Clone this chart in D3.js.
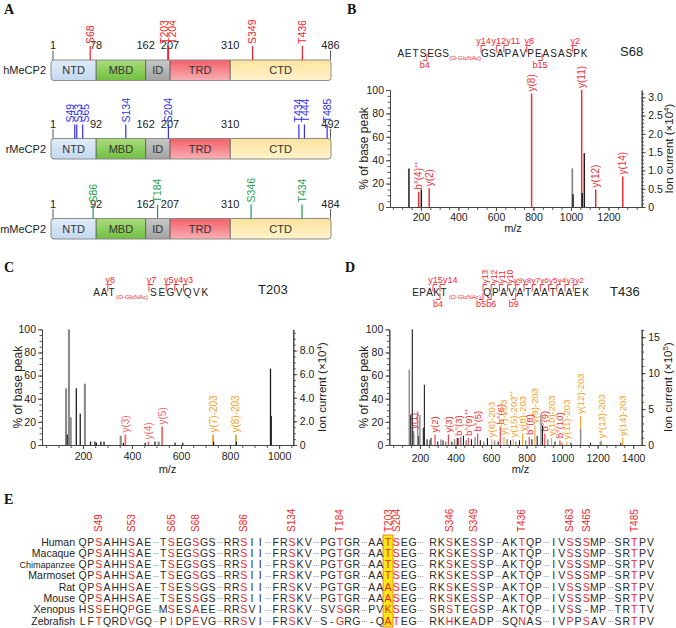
<!DOCTYPE html>
<html><head><meta charset="utf-8">
<script src="https://cdn.jsdelivr.net/npm/d3@7/dist/d3.min.js"></script>
<style>
html,body{margin:0;padding:0;background:#fff;}
svg{display:block;}
</style></head>
<body><svg id="fig" width="676" height="628"></svg>
<script>
// ================= DATA =================
const panelLabels = ["A","B","C","D","E"];

// Panel A
const domainNames = ["NTD","MBD","ID","TRD","CTD"];
const proteinNames = ["hMeCP2","rMeCP2","mMeCP2"];
const hBounds = [1,78,162,207,310,486];
const rBounds = [1,92,162,207,310,492];
const mBounds = [1,92,162,207,310,484];
const hSites = ["S68","T203","T204","S349","T436"];
const rSites = ["S49","S53","S65","S134","S204","T434","T444","T485"];
const mSites = ["S86","T184","S346","T434"];

// Panel B
const bSeq = "AETSEGSGSAPAVPEASASPK";
const bModAfter = 7;
const bYIons = [14,12,11,8,2];
const bBIons = [4,15];
const bSiteLabel = "S68";
const bIonMz = [188,244,790,1057,1132,1276];
const bIonPct = [13,16,97,100,15,26];
const bIonLabel = ["b°(4)⁺⁺","y(2)","y(8)","y(11)","y(12)","y(14)"];
const bBgMz = [136,202,1007,1011,1060,1071];
const bBgPct = [33,15,33,11,12,46];
const bBgShade = ["k","k","g","k","k","k"];
const bXTicks = [200,400,600,800,1000,1200];
const bRTicks = [0,0.5,1.0,1.5,2.0,2.5,3.0];

// Panel C
const cSeq = "AATSEGVQVK";
const cModAfter = 3;
const cYIons = [8,7,5,4,3];
const cBIons = [];
const cSiteLabel = "T203";
const cIonMz = [373,467,523,731,824];
const cIonPct = [9,3,16,9,9];
const cIonLabel = ["y(3)","y(4)","y(5)","y(7)-203","y(8)-203"];
const cBgMz = [131,136,143,150,173,189,208,231,249,255,273,286,354,365,454,494,509,576,607,733,826,965,968];
const cBgPct = [49,9,100,24,49,27,53,3,3,2,3,3,8,2,2,3,3,2,2,3,3,66,25];
const cBgShade = ["g","k","g","g","k","k","g","k","k","k","k","k","g","k","k","k","g","k","k","k","k","k","k"];
const cXTicks = [200,400,600,800,1000];
const cRTicks = [0,2,4,6,8];

// Panel D
const dSeq = "EPAKTQPAVATAATAAEK";
const dModAfter = 5;
const dYIons = [15,14,13,12,11,10,9,8,7,6,5,4,3,2];
const dBIons = [4,5,6,9];
const dSiteLabel = "T436";
const dIonMz = [163,285,360,416,472,525,604,652,673,725,778,815,847,903,941,988,1026,1104,1222,1341];
const dIonPct = [12,9,9,6,6,10,5,16,7,5,10,7,17,10,6,4,3,25,4,6];
const dIonLabel = ["y(1)","y(2)","y(3)","b°(3)","b°(9)⁺⁺","b°(5)","y(6)-203","b°(6)","y(7)-203","y(15)-203⁺⁺","y(8)-203","b°(8)","y(9)-203","b°(9)","y(10)-203","b°(10)","y(11)-203","y(12)-203","y*(13)-203","y(14)-203"];
const dBgMz = [140,148,157,166,187,194,200,219,225,240,255,262,300,318,330,345,380,395,410,430,445,460,490,510,540,560,580,620,640,690,710,740,760,795,830,860,881,890,920,960,1000,1050,1104,1160,1215,1330];
const dBgPct = [65,26,100,10,29,8,26,15,52,5,4,6,3,5,4,3,3,5,6,7,8,4,5,7,4,3,6,4,3,5,4,3,4,4,5,8,27,17,5,3,2,2,14,2,3,2];
const dBgShade = ["g","k","k","g","g","k","g","k","k","k","g","k","k","g","k","g","k","g","k","g","k","g","k","g","k","g","k","g","k","g","k","g","k","g","k","k","g","k","g","k","g","k","g","k","g","k"];
const dXTicks = [200,400,600,800,1000,1200,1400];
const dRTicks = [0,5,10,15];

// Panel E
const eSpecies = ["Human","Macaque","Chimapanzee","Marmoset","Rat","Mouse","Xenopus","Zebrafish"];
const eAlign = [
  "QPSAHHSAE|TSEGSGS|RRSII|FRSKV|PGTGR|AATSEG|RKSKESSP|AKTQP|IVSSSMP|SRTPV",
  "QPSAHHSAE|TSEGSGS|RRSII|FRSKV|PGTGR|AATSEG|RKSKESSP|AKTQP|IVSSSMP|SRTPV",
  "QPSAHHSAE|TSEGSGS|RRSII|FRSKV|PGTGR|AATSEG|RKSKESSP|AKTQP|IVSSSMP|SRTPV",
  "QPSAHHSAE|TSEGSGS|RRSII|FRSKV|PGTGR|AATSEG|RKSKESSP|AKTQP|IVSSSMP|SRTPV",
  "QPSAHHSAE|TSESSGS|RRSII|FRSKV|PGTGR|AAASEG|RKSKESSP|AKTQP|IVSSSMP|SRTPV",
  "QPSAHHSAE|TSESSGS|RRSII|FRSKV|PGTGR|AAASEG|RKSKESSP|AKTQP|IVSSSMP|SRTPV",
  "HSSEHQPGE|MSESAEE|RRSVI|FRSKV|SVSGR|PVKSEG|SRSTEGSP|AKTQP|IVSS-MP|TRTTV",
  "LFTQRDVGQ|PIDPEVG|RRSVI|FRSKV|S-GRG|-QATEG|RKHKEADP|SQNAS|IVPPSAV|SRTPV"
];
const eSites = ["S49","S53","S65","S68","S86","S134","T184","T203","S204","S346","S349","T436","S463","S465","T485"];
const eSiteSeg = [0,0,1,1,2,3,4,5,5,6,6,7,8,8,9];
const eSiteIdx = [2,6,1,4,2,2,2,2,3,2,5,2,2,4,2];
const eHighlight = "T203";

// ================= DRAWING =================
const svg = d3.select("#fig");
const SANS = '"Liberation Sans", Arial, Helvetica, sans-serif';
const SERIF = '"Liberation Serif", "Times New Roman", serif';
svg.style("font-family", SANS);
const defs = svg.append("defs");
const TXT = "#222";

// panel letters
const letterPos = {A:[4,13.5],B:[347,13.5],C:[4,272],D:[345,272],E:[4,503.5]};
panelLabels.forEach(l => svg.append("text").attr("x",letterPos[l][0]).attr("y",letterPos[l][1])
  .attr("font-family",SERIF).attr("font-weight","bold").attr("font-size",14).attr("fill","#111").text(l));

function rotText(g, x, y, txt, fs, color, anchor){
  return g.append("text").attr("transform",`translate(${x},${y}) rotate(-90)`)
    .attr("text-anchor",anchor||"start").attr("dy","0.35em").attr("font-size",fs).attr("fill",color).text(txt);
}
// spread close positions into clusters with a minimum gap, centred on each cluster's mean
function spreadCentered(xs, minGap){
  let clusters = xs.map(x => ({xs:[x], c:x}));
  let changed = true;
  while (changed){
    changed = false;
    for (let i=0;i<clusters.length-1;i++){
      const a = clusters[i], b = clusters[i+1];
      const aEnd = a.c + (a.xs.length-1)*minGap/2, bStart = b.c - (b.xs.length-1)*minGap/2;
      if (bStart - aEnd < minGap){
        const all = a.xs.concat(b.xs);
        clusters.splice(i,2,{xs:all, c:d3.mean(all)}); changed = true; break;
      }
    }
  }
  const out = [];
  clusters.forEach(cl => cl.xs.forEach((x,j) => out.push(cl.c + (j-(cl.xs.length-1)/2)*minGap)));
  return out;
}
// push horizontally placed text nodes right so they don't overlap
function pushRight(items){
  items.sort((a,b) => a.x - b.x);
  items.forEach(it => it.w = it.node.node().getComputedTextLength());
  for (let i=1;i<items.length;i++){
    const p = items[i-1], minX = p.x + p.w/2 + items[i].w/2 + 0.3;
    if (items[i].x < minX) items[i].x = minX;
  }
  items.forEach(it => it.node.attr("x", it.x));
}

// ---------- Panel A ----------
const domainGrad = {NTD:["#e0ecf8","#c3d8ee"], MBD:["#a9dd7c","#72c040"], ID:["#c8c8c8","#a2a2a2"],
                    TRD:["#f35f69","#f9b0b4"], CTD:["#fde39c","#fff2cc"]};
domainNames.forEach(n => {
  const gr = defs.append("linearGradient").attr("id","g"+n).attr("x1",0).attr("y1",0).attr("x2",0).attr("y2",1);
  gr.append("stop").attr("offset","0%").attr("stop-color",domainGrad[n][0]);
  gr.append("stop").attr("offset","100%").attr("stop-color",domainGrad[n][1]);
});
const aRows = [
  {name:proteinNames[0], bounds:hBounds, sites:hSites, color:"#f01e28", top:60},
  {name:proteinNames[1], bounds:rBounds, sites:rSites, color:"#2f2ff0", top:138.5},
  {name:proteinNames[2], bounds:mBounds, sites:mSites, color:"#1a9e4c", top:218.5}];
const barH = 20.5, ax0 = 51, aw = 280, layoutFrac = [0,.161,.338,.425,.64,1];
aRows.forEach((r,ri) => {
  const g = svg.append("g");
  const xs = d3.scaleLinear().domain(r.bounds).range(layoutFrac.map(f => ax0 + f*aw));
  const cid = "clipA"+ri;
  defs.append("clipPath").attr("id",cid).append("rect").attr("x",ax0).attr("y",r.top)
    .attr("width",aw).attr("height",barH).attr("rx",3);
  const dg = g.append("g").attr("clip-path",`url(#${cid})`);
  domainNames.forEach((n,i) => {
    const x1 = xs(r.bounds[i]), x2 = xs(r.bounds[i+1]);
    dg.append("rect").attr("x",x1).attr("y",r.top).attr("width",x2-x1).attr("height",barH).attr("fill",`url(#g${n})`);
    if (i>0) dg.append("line").attr("x1",x1).attr("x2",x1).attr("y1",r.top).attr("y2",r.top+barH).attr("stroke","#555").attr("stroke-width",0.9);
    g.append("text").attr("x",(x1+x2)/2).attr("y",r.top+barH/2).attr("dy","0.36em").attr("text-anchor","middle")
      .attr("font-size",11).attr("fill","#333").text(n);
  });
  g.append("rect").attr("x",ax0).attr("y",r.top).attr("width",aw).attr("height",barH).attr("rx",3)
    .attr("fill","none").attr("stroke","#8a8a8a").attr("stroke-width",1);
  // boundary numbers
  r.bounds.forEach((b,i) => {
    let xx = xs(b);
    if (i===0) xx += 2; if (i===r.bounds.length-1) xx -= 0.5;
    g.append("text").attr("x",xx).attr("y",r.top-11).attr("text-anchor","middle").attr("font-size",11).attr("fill",TXT).text(b);
    if (i===0 || i===r.bounds.length-1)
      g.append("line").attr("x1",xx).attr("x2",xx).attr("y1",r.top-9.5).attr("y2",r.top).attr("stroke","#444").attr("stroke-width",0.9);
  });
  // sites
  const sx = r.sites.map(s => xs(+s.slice(1)));
  const lx = spreadCentered(sx, 7.5);
  r.sites.forEach((s,i) => {
    g.append("line").attr("x1",sx[i]).attr("x2",sx[i]).attr("y1",r.top).attr("y2",r.top-14).attr("stroke",r.color).attr("stroke-width",1.2);
    rotText(g, lx[i], r.top-16, s, 10.5, r.color);
  });
  g.append("text").attr("x",46).attr("y",r.top+barH/2).attr("dy","0.36em").attr("text-anchor","end")
    .attr("font-size",11).attr("fill",TXT).text(r.name);
});

// ---------- sequence annotations ----------
function seqAnno(o){
  const g = svg.append("g");
  const L = o.seq.length;
  const modStart = o.x0 + o.nPre*o.stepPre;
  const cx = i => i < o.nPre ? o.x0 + (i+.5)*o.stepPre : o.postStart + (i-o.nPre+.5)*o.stepPost;
  const bx = k => k < o.nPre ? o.x0 + k*o.stepPre : o.postStart + (k-o.nPre)*o.stepPost;
  const red = "#f0262e", sb = o.base;
  o.seq.split("").forEach((c,i) => g.append("text").attr("x",cx(i)).attr("y",sb).attr("text-anchor","middle")
    .attr("font-size",o.fs).attr("fill",TXT).text(c));
  g.append("text").attr("x",(modStart+o.postStart)/2).attr("y",sb+2.5).attr("text-anchor","middle")
    .attr("font-size",6.2).attr("fill",red).text("(O-GlcNAc)");
  const yItems = [];
  o.yIons.forEach(n => {
    const X = bx(L-n);
    g.append("path").attr("d",`M${X},${sb-4.5}V${sb-11.5}H${X+4}`).attr("fill","none").attr("stroke",red).attr("stroke-width",0.9);
    if (o.vertY && o.vertY.includes(n)) rotText(g, X+2.5, sb-12.5, "y"+n, 8.5, red);
    else {
      const small = o.smallY && o.smallY.includes(n);
      const node = g.append("text").attr("x",X+2.5).attr("y",sb-13.5).attr("text-anchor","middle")
        .attr("font-size",small?8:9).attr("fill",red).text("y"+n);
      yItems.push({node, x:X+2.5});
    }
  });
  pushRight(yItems);
  const bItems = [];
  o.bIons.forEach(n => {
    const X = bx(n);
    g.append("path").attr("d",`M${X},${sb-3}V${sb+3.5}H${X-4}`).attr("fill","none").attr("stroke",red).attr("stroke-width",0.9);
    const node = g.append("text").attr("x",X-2).attr("y",sb+11).attr("text-anchor","middle").attr("font-size",9).attr("fill",red).text("b"+n);
    bItems.push({node, x:X-2});
  });
  pushRight(bItems);
  g.append("text").attr("x",o.siteX).attr("y",o.siteY).attr("font-size",13).attr("fill",TXT).text(o.site);
}
seqAnno({seq:bSeq, nPre:bModAfter, x0:397, stepPre:7.47, postStart:481, stepPost:7.64, base:57, fs:10,
  yIons:bYIons, bIons:bBIons, site:bSiteLabel, siteX:620, siteY:55.5});
seqAnno({seq:cSeq, nPre:cModAfter, x0:93, stepPre:7.4, postStart:149, stepPost:8.6, base:296, fs:10,
  yIons:cYIons, bIons:cBIons, site:cSiteLabel, siteX:258, siteY:294});
seqAnno({seq:dSeq, nPre:dModAfter, x0:412, stepPre:7.0, postStart:483, stepPost:8.2, base:296, fs:10,
  yIons:dYIons, bIons:dBIons, vertY:[13,12,11,10], smallY:[9,8,7,6,5,4,3,2], site:dSiteLabel, siteX:610, siteY:296});

// ---------- spectra ----------
function styleAxis(sel){
  sel.select(".domain").attr("stroke","#444").attr("stroke-width",1);
  sel.selectAll(".tick line").attr("stroke","#444").attr("stroke-width",0.9);
  sel.selectAll(".tick text").attr("fill",TXT).attr("font-size",10.5).attr("font-family",SANS);
  sel.attr("font-family",null);
  return sel;
}
function spectrum(o){
  const g = svg.append("g");
  const x = d3.scaleLinear().domain(o.xDomain).range([o.left,o.right]);
  const y = d3.scaleLinear().domain([0,100]).range([o.bottom,o.top]);
  const yr = d3.scaleLinear().domain([0,o.rMax]).range([o.bottom,o.top]);
  const xMinor = d3.range(Math.ceil(o.xDomain[0]/50)*50, o.xDomain[1], 50);
  styleAxis(g.append("g").attr("transform",`translate(0,${o.bottom})`)
    .call(d3.axisBottom(x).tickValues(xMinor).tickSize(3).tickFormat("").tickSizeOuter(0)));
  styleAxis(g.append("g").attr("transform",`translate(0,${o.bottom})`)
    .call(d3.axisBottom(x).tickValues(o.xTicks).tickFormat(d3.format("d")).tickSize(4).tickPadding(o.xPad).tickSizeOuter(0)));
  styleAxis(g.append("g").attr("transform",`translate(${o.left},0)`)
    .call(d3.axisLeft(y).tickValues(d3.range(0,101,5)).tickSize(2.5).tickFormat("").tickSizeOuter(0)));
  styleAxis(g.append("g").attr("transform",`translate(${o.left},0)`)
    .call(d3.axisLeft(y).tickValues([0,20,40,60,80,100]).tickSize(4).tickPadding(2).tickSizeOuter(0)));
  styleAxis(g.append("g").attr("transform",`translate(${o.right},0)`)
    .call(d3.axisRight(yr).tickValues(d3.range(0,o.rMax,o.rMinor)).tickSize(2.5).tickFormat("").tickSizeOuter(0)));
  styleAxis(g.append("g").attr("transform",`translate(${o.right},0)`)
    .call(d3.axisRight(yr).tickValues(o.rTicks).tickFormat(o.rFormat).tickSize(4).tickPadding(2.5).tickSizeOuter(0)));
  // ions
  o.ionMz.forEach((mz,i) => {
    const col = o.ionLabel[i].includes("-203") ? "#f5a128" : o.red;
    g.append("line").attr("x1",x(mz)).attr("x2",x(mz)).attr("y1",y(0)).attr("y2",y(o.ionPct[i]))
      .attr("stroke",col).attr("stroke-width",o.ionW);
    rotText(g, x(mz), y(o.ionPct[i])-2, o.ionLabel[i], o.labFs, col);
  });
  // background peaks
  o.bgMz.forEach((mz,i) => {
    g.append("line").attr("x1",x(mz)).attr("x2",x(mz)).attr("y1",y(0)).attr("y2",y(o.bgPct[i]))
      .attr("stroke",o.bgShade[i]==="g" ? "#8a8a8a" : "#1e1e1e").attr("stroke-width",o.bgShade[i]==="g"?o.grayW:o.blackW);
  });
  // titles
  g.append("text").attr("x",o.mzX).attr("y",o.mzY).attr("text-anchor","middle").attr("font-size",11).attr("fill",TXT).text("m/z");
  rotText(g, o.lTitleX, (o.top+o.bottom)/2, "% of base peak", 12, TXT, "middle");
  const t = g.append("text").attr("transform",`translate(${o.rTitleX},${(o.top+o.bottom)/2}) rotate(-90)`)
    .attr("text-anchor","middle").attr("dy","0.35em").attr("font-size",11.5).attr("fill",TXT);
  t.append("tspan").text("Ion current (×10");
  t.append("tspan").attr("dy",-4).attr("font-size",8).text(o.rExp);
  t.append("tspan").attr("dy",4).text(")");
}
spectrum({left:390, right:641.7, top:90, bottom:207, xDomain:[35,1377], xTicks:bXTicks, xPad:2.5,
  rMax:3.2, rTicks:bRTicks, rMinor:0.1, rFormat:d => d===0 ? "0" : d3.format(".1f")(d), rExp:"4",
  ionMz:bIonMz, ionPct:bIonPct, ionLabel:bIonLabel, bgMz:bBgMz, bgPct:bBgPct, bgShade:bBgShade,
  red:"#e8333a", ionW:1.5, blackW:1.5, grayW:1.8, labFs:10,
  mzX:513, mzY:232, lTitleX:364, rTitleX:669});
spectrum({left:42, right:293.3, top:329.3, bottom:445, xDomain:[33,1058], xTicks:cXTicks, xPad:3.5,
  rMax:9.8, rTicks:cRTicks, rMinor:0.5, rFormat:d => d===0 ? "0" : d3.format(".1f")(d), rExp:"4",
  ionMz:cIonMz, ionPct:cIonPct, ionLabel:cIonLabel, bgMz:cBgMz, bgPct:cBgPct, bgShade:cBgShade,
  red:"#f26a6a", ionW:1.8, blackW:1.3, grayW:2.1, labFs:10,
  mzX:167.5, mzY:473, lTitleX:18, rTitleX:322});
spectrum({left:389.3, right:641.7, top:329.3, bottom:445, xDomain:[27.6,1448], xTicks:dXTicks, xPad:5.5,
  rMax:16.1, rTicks:dRTicks, rMinor:1, rFormat:d3.format("d"), rExp:"5",
  ionMz:dIonMz, ionPct:dIonPct, ionLabel:dIonLabel, bgMz:dBgMz, bgPct:dBgPct, bgShade:dBgShade,
  red:"#ef2f36", ionW:1.1, blackW:1.1, grayW:1.4, labFs:9.5,
  mzX:520.5, mzY:473, lTitleX:364, rTitleX:668});

// ---------- Panel E ----------
(function(){
  const g = svg.append("g");
  const eX0 = 78.5, eCell = 8.15, eSep = 7.3, eSepWide = 12.5, eWideAfter = 5;
  const segLens = eAlign[0].split("|").map(s => s.length);
  const segStart = []; let cur = eX0;
  segLens.forEach((len,i) => { segStart.push(cur); cur += len*eCell + (i===eWideAfter ? eSepWide : eSep); });
  const colX = (s,i) => segStart[s] + (i+.5)*eCell;
  const rowY = d3.scalePoint().domain(eSpecies).range([545.5,624.5]);
  const redSet = new Set(eSites.map((s,i) => eSiteSeg[i]+"-"+eSiteIdx[i]));
  const red = "#ee1f27";
  // highlight box
  const hi = eSites.indexOf(eHighlight);
  const hx = colX(eSiteSeg[hi], eSiteIdx[hi]);
  g.append("rect").attr("x",hx-5).attr("y",535).attr("width",10).attr("height",92)
    .attr("fill","#ffe714").attr("stroke","#e9892c").attr("stroke-width",1);
  // site labels
  eSites.forEach((s,i) => rotText(g, colX(eSiteSeg[i],eSiteIdx[i]), 532, s, 10, red));
  // rows
  eSpecies.forEach((sp,ri) => {
    const yb = rowY(sp);
    g.append("text").attr("x",75).attr("y",yb).attr("text-anchor","end")
      .attr("font-size", sp.length>10 ? 9 : 10.5).attr("fill",TXT).text(sp);
    const segs = eAlign[ri].split("|");
    segs.forEach((seg,si) => {
      seg.split("").forEach((c,ci) => {
        g.append("text").attr("x",colX(si,ci)).attr("y",yb).attr("text-anchor","middle").attr("font-size",10.5)
          .attr("fill", redSet.has(si+"-"+ci) ? red : "#2a2a2a").text(c);
      });
      if (si < segs.length-1)
        g.append("text").attr("x",segStart[si]+segLens[si]*eCell+3.65).attr("y",yb-0.5).attr("text-anchor","middle")
          .attr("font-size",8).attr("letter-spacing",-0.6).attr("fill","#555").text("···");
    });
  });
})();
</script>
</body></html>
